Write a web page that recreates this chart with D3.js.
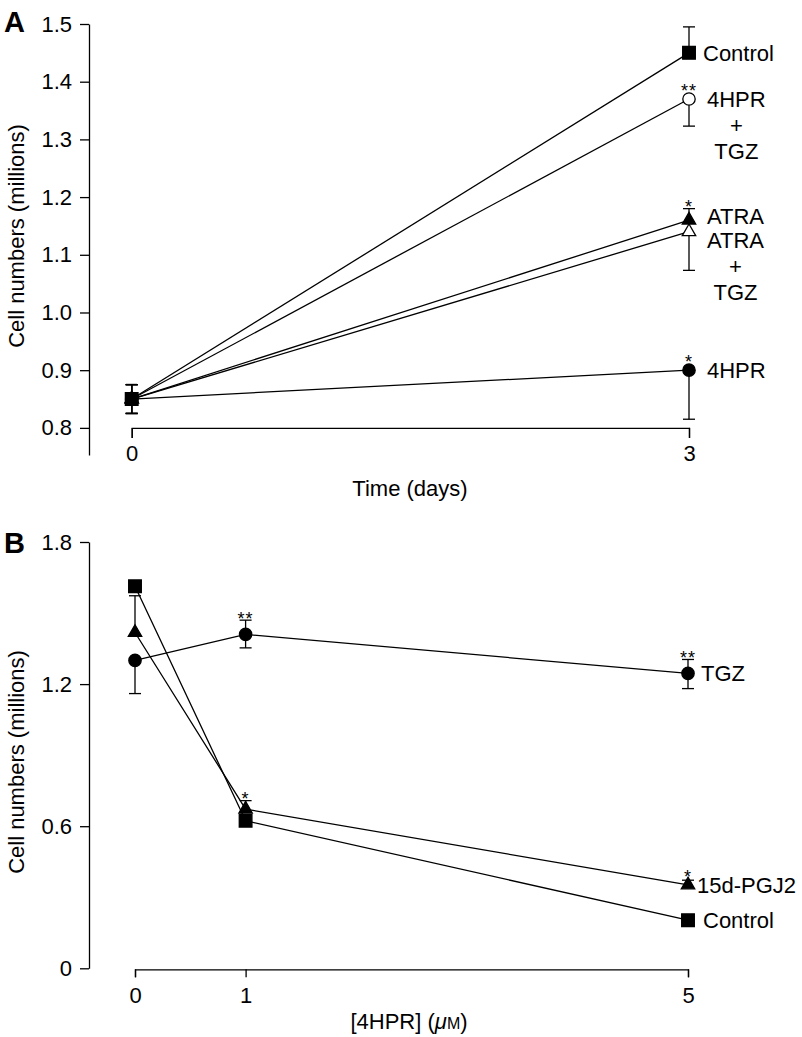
<!DOCTYPE html>
<html>
<head>
<meta charset="utf-8">
<script src="https://cdn.jsdelivr.net/npm/d3@7"></script>
<style>
  body { margin: 0; background: #fff; }
  svg text { font-family: 'Liberation Sans', Arial, Helvetica, sans-serif; fill: #000; }
</style>
</head>
<body>
<svg id="chart" width="802" height="1037"></svg>
<script>
// ---- Panel A: cell numbers vs time ----
const daysA = [0, 3];
const yTicksA = [0.8, 0.9, 1.0, 1.1, 1.2, 1.3, 1.4, 1.5];

const controlA = [0.85, 1.45];
const hprTgzA = [0.85, 1.37];
const atraA = [0.85, 1.16];
const atraTgzA = [0.85, 1.14];
const hprA = [0.85, 0.90];

// error bars as [up, down] (drawn one-sided on day 3)
const controlErrA = [[0.025, 0.025], [0.045, 0]];
const hprTgzErrA = [[0.025, 0.025], [0, 0.047]];
const atraErrA = [[0.025, 0.025], [0.02, 0]];
const atraTgzErrA = [[0.025, 0.025], [0, 0.067]];
const hprErrA = [[0.025, 0.025], [0, 0.085]];

const starsA = {
  control: ['', ''],
  hprTgz: ['', '**'],
  atra: ['', '*'],
  atraTgz: ['', ''],
  hpr: ['', '*']
};

// ---- Panel B: cell numbers vs 4HPR dose ----
const dosesB = [0, 1, 5];
const yTicksB = [0, 0.6, 1.2, 1.8];

const tgzB = [1.30, 1.41, 1.245];
const pgjB = [1.418, 0.672, 0.352];
const controlB = [1.613, 0.623, 0.203];

const tgzErrB = [[0, 0.14], [0.06, 0.057], [0.059, 0.064]];
const pgjErrB = [[0.155, 0], [0.036, 0], [0.02, 0]];
const controlErrB = [[0, 0], [0, 0], [0, 0]];

const starsB = {
  tgz: ['', '**', '**'],
  pgj: ['', '*', '*'],
  control: ['', '', '']
};

// ---- drawing ----
const svg = d3.select('#chart');
const FS = 22;
const SW = 1.3;

const symbols = {
  square: d3.symbol().type(d3.symbolSquare).size(160),
  circle: d3.symbol().type(d3.symbolCircle).size(120),
  triangle: d3.symbol().type(d3.symbolTriangle).size(78)
};

function styleAxis(g) {
  g.selectAll('path, line').attr('stroke', '#000').attr('stroke-width', SW);
  g.selectAll('text').attr('font-size', FS).attr('fill', '#000');
}

function drawSeries(g, series, xVals, x, y) {
  const line = d3.line().x((d, i) => x(xVals[i])).y(d => y(d));

  series.forEach(s => {
    g.append('path')
      .attr('d', line(s.values))
      .attr('fill', 'none')
      .attr('stroke', '#000')
      .attr('stroke-width', SW);
  });

  // error bars
  series.forEach(s => {
    s.values.forEach((v, i) => {
      const cx = x(xVals[i]);
      [[s.err[i][0], 1], [s.err[i][1], -1]].forEach(([e, sign]) => {
        if (!e) return;
        const ye = y(v + sign * e);
        g.append('line')
          .attr('x1', cx).attr('x2', cx)
          .attr('y1', y(v)).attr('y2', ye)
          .attr('stroke', '#000').attr('stroke-width', SW);
        g.append('line')
          .attr('x1', cx - 6).attr('x2', cx + 6)
          .attr('y1', ye).attr('y2', ye)
          .attr('stroke', '#000').attr('stroke-width', SW);
      });
    });
  });

  // markers, first series on top
  series.slice().reverse().forEach(s => {
    s.values.forEach((v, i) => {
      g.append('path')
        .attr('d', symbols[s.symbol]())
        .attr('transform', `translate(${x(xVals[i])},${y(v)})`)
        .attr('fill', s.filled ? '#000' : '#fff')
        .attr('stroke', '#000')
        .attr('stroke-width', SW);
    });
  });

  // significance stars
  series.forEach(s => {
    s.values.forEach((v, i) => {
      if (!s.stars[i]) return;
      const top = Math.min(y(v) - 6.5, y(v + s.err[i][0]));
      g.append('text')
        .attr('x', x(xVals[i]))
        .attr('y', top + 4.5)
        .attr('text-anchor', 'middle')
        .attr('font-size', 18)
        .attr('letter-spacing', 1)
        .text(s.stars[i]);
    });
  });

  // series labels at the last point
  series.forEach(s => {
    const n = s.values.length - 1;
    const x0 = x(xVals[n]) + s.label.dx;
    const y0 = y(s.values[n]) + (s.label.dy || 0);
    const first = g.append('text')
      .attr('x', x0).attr('y', y0).attr('dy', '0.36em')
      .attr('font-size', FS)
      .text(s.label.lines[0]);
    const mid = x0 + first.node().getComputedTextLength() / 2;
    s.label.lines.slice(1).forEach((t, k) => {
      g.append('text')
        .attr('x', mid).attr('y', y0 + 26 * (k + 1)).attr('dy', '0.36em')
        .attr('text-anchor', 'middle')
        .attr('font-size', FS)
        .text(t);
    });
  });
}

// Panel A
{
  const x = d3.scaleLinear().domain([0, 3]).range([131.7, 689]);
  const y = d3.scaleLinear().domain([0.753, 1.5]).range([455, 24]);
  const g = svg.append('g');

  g.append('g')
    .attr('transform', 'translate(89,0)')
    .call(d3.axisLeft(y).tickValues(yTicksA).tickFormat(d3.format('.1f'))
      .tickSize(9).tickSizeOuter(0).tickPadding(8))
    .call(styleAxis);

  g.append('g')
    .attr('transform', `translate(0,${y(0.8)})`)
    .call(d3.axisBottom(x).tickValues(daysA).tickFormat(d3.format('d'))
      .tickSize(10).tickPadding(8))
    .call(styleAxis);

  g.append('text').attr('x', 410).attr('y', 496)
    .attr('text-anchor', 'middle').attr('font-size', FS).text('Time (days)');
  g.append('text')
    .attr('transform', 'translate(16,236) rotate(-90)')
    .attr('dy', '0.36em').attr('text-anchor', 'middle').attr('font-size', FS)
    .text('Cell numbers (millions)');
  g.append('text').attr('x', 4).attr('y', 32)
    .attr('font-size', 29).attr('font-weight', 'bold').text('A');

  drawSeries(g, [
    { values: controlA, err: controlErrA, stars: starsA.control, symbol: 'square', filled: true,
      label: { lines: ['Control'], dx: 14 } },
    { values: hprTgzA, err: hprTgzErrA, stars: starsA.hprTgz, symbol: 'circle', filled: false,
      label: { lines: ['4HPR', '+', 'TGZ'], dx: 18 } },
    { values: atraA, err: atraErrA, stars: starsA.atra, symbol: 'triangle', filled: true,
      label: { lines: ['ATRA'], dx: 18, dy: -4 } },
    { values: atraTgzA, err: atraTgzErrA, stars: starsA.atraTgz, symbol: 'triangle', filled: false,
      label: { lines: ['ATRA', '+', 'TGZ'], dx: 18, dy: 8 } },
    { values: hprA, err: hprErrA, stars: starsA.hpr, symbol: 'circle', filled: true,
      label: { lines: ['4HPR'], dx: 18 } }
  ], daysA, x, y);
}

// Panel B
{
  const x = d3.scaleLinear().domain([0, 5]).range([135, 688]);
  const y = d3.scaleLinear().domain([0, 1.8]).range([968.3, 542]);
  const g = svg.append('g');

  g.append('g')
    .attr('transform', 'translate(89,0)')
    .call(d3.axisLeft(y).tickValues(yTicksB).tickFormat(d => d === 0 ? '0' : d3.format('.1f')(d))
      .tickSize(9).tickSizeOuter(0).tickPadding(8))
    .call(styleAxis);

  g.append('g')
    .attr('transform', `translate(0,${y(0) + 1})`)
    .call(d3.axisBottom(x).tickValues(dosesB).tickFormat(d3.format('d'))
      .tickSize(8).tickSizeOuter(8).tickPadding(10))
    .call(styleAxis);

  const xl = g.append('text').attr('x', 409).attr('y', 1029)
    .attr('text-anchor', 'middle').attr('font-size', FS);
  xl.append('tspan').text('[4HPR] (');
  xl.append('tspan').attr('font-style', 'italic').text('\u03bc');
  xl.append('tspan').attr('font-size', 16).text('M');
  xl.append('tspan').text(')');

  g.append('text')
    .attr('transform', 'translate(16,762) rotate(-90)')
    .attr('dy', '0.36em').attr('text-anchor', 'middle').attr('font-size', FS)
    .text('Cell numbers (millions)');
  g.append('text').attr('x', 4).attr('y', 553)
    .attr('font-size', 29).attr('font-weight', 'bold').text('B');

  drawSeries(g, [
    { values: controlB, err: controlErrB, stars: starsB.control, symbol: 'square', filled: true,
      label: { lines: ['Control'], dx: 15 } },
    { values: pgjB, err: pgjErrB, stars: starsB.pgj, symbol: 'triangle', filled: true,
      label: { lines: ['15d-PGJ2'], dx: 9 } },
    { values: tgzB, err: tgzErrB, stars: starsB.tgz, symbol: 'circle', filled: true,
      label: { lines: ['TGZ'], dx: 13 } }
  ], dosesB, x, y);
}
</script>
</body>
</html>
